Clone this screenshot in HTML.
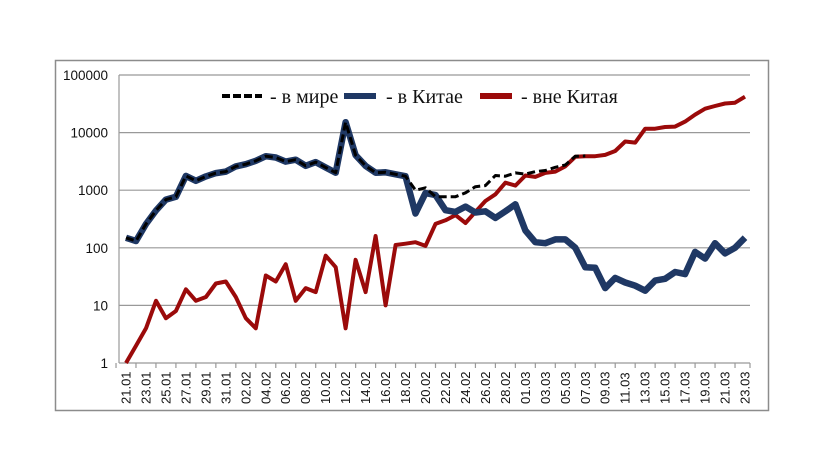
<!DOCTYPE html>
<html><head><meta charset="utf-8"><style>
html,body{margin:0;padding:0;background:#fff;}
svg{display:block;}
</style></head><body>
<svg id="s" width="827" height="472" xmlns="http://www.w3.org/2000/svg">
<rect x="55.5" y="60.5" width="713" height="350" fill="#fff" stroke="#8c8c8c" stroke-width="1.5"/>
<g id="grid" stroke="#999" stroke-width="1.2"></g>
<g id="lab" font-family="Liberation Sans, sans-serif" font-size="13.5" fill="#111"></g>
<g id="lines" fill="none" stroke-linejoin="round"></g>
<g font-family="Liberation Serif, serif" font-size="20" fill="#111">
<line x1="222" y1="96" x2="262" y2="96" stroke="#000" stroke-width="4" stroke-dasharray="8,3"/>
<text x="270" y="103">- в мире</text>
<line x1="344" y1="96" x2="376" y2="96" stroke="#1f3864" stroke-width="6"/>
<text x="386" y="103">-  в Китае</text>
<line x1="480" y1="96" x2="512" y2="96" stroke="#9b0a0a" stroke-width="6"/>
<text x="521" y="103">- вне Китая</text>
</g>
</svg>
<script>
var NS="http://www.w3.org/2000/svg";
function el(t,a,p,txt){var e=document.createElementNS(NS,t);for(var k in a)e.setAttribute(k,a[k]);if(txt)e.textContent=txt;document.getElementById(p).appendChild(e);return e;}
function Y(v){return 363-57.6*Math.log10(v);}
var L=119,R=750,x0=126,dx=(745-126)/62;
function X(i){return x0+i*dx;}
var labs=["1","10","100","1000","10000","100000"];
for(var k=0;k<6;k++){var y=363-57.6*k;
 if(k>0)el("line",{x1:L,y1:y,x2:R,y2:y},"grid");
 el("text",{x:108,y:y+5,"text-anchor":"end"},"lab",labs[k]);}
el("line",{x1:L,y1:363,x2:R,y2:363},"grid");
el("line",{x1:L,y1:75,x2:L,y2:363},"grid");
var dates=[];
for(var d=21;d<=31;d++)dates.push((d<10?"0":"")+d+".01");
for(var d=1;d<=29;d++)dates.push((d<10?"0":"")+d+".02");
for(var d=1;d<=23;d++)dates.push((d<10?"0":"")+d+".03");
for(var i=0;i<63;i++){
 if(i%2==0){var x=X(i);
  el("line",{x1:x-dx,y1:363,x2:x-dx,y2:368},"grid");
  el("text",{x:0,y:0,transform:"translate("+(x+4.5)+",404) rotate(-90)","font-size":"13"},"lab",dates[i]);}
}
el("line",{x1:R,y1:363,x2:R,y2:368},"grid");
var china=[149,131,259,444,688,769,1771,1459,1737,1982,2102,2590,2829,3235,3887,3694,3143,3385,2652,3073,2478,2015,15152,4050,2641,2009,2048,1886,1749,394,889,823,450,420,520,410,430,330,430,570,200,125,120,140,140,100,46,45,20,30,25,22,18,27,29,38,35,85,65,120,80,100,150];
var out=[1,2,4,12,6,8,19,12,14,24,26,14,6,4,33,26,52,12,20,17,73,46,4,62,17,160,10,112,118,125,108,260,300,370,270,420,650,850,1350,1200,1800,1700,2000,2100,2600,3800,3900,3900,4100,4800,7000,6700,11700,11700,12500,12700,15500,20500,26000,29000,32000,33000,42000];
var world=china.slice();
var wt=[1000,1100,770,770,770,900,1150,1200,1800,1750,2000,1900,2100,2200,2500];
for(var i=0;i<63;i++){ if(i>=29&&i<44) world[i]=wt[i-29]; else if(i>=44) world[i]=out[i]+china[i]; }
function pts(a,s,e){var p=[];for(var i=s;i<=e;i++)p.push(X(i).toFixed(1)+","+Y(a[i]).toFixed(1));return p.join(" ");}
el("polyline",{points:pts(out,0,62),stroke:"#9b0a0a","stroke-width":4},"lines");
el("polyline",{points:pts(china,0,62),stroke:"#1f3864","stroke-width":6.5},"lines");
el("polyline",{points:pts(world,0,46),stroke:"#000","stroke-width":3,"stroke-dasharray":"8,4"},"lines");
</script>
</body></html>
